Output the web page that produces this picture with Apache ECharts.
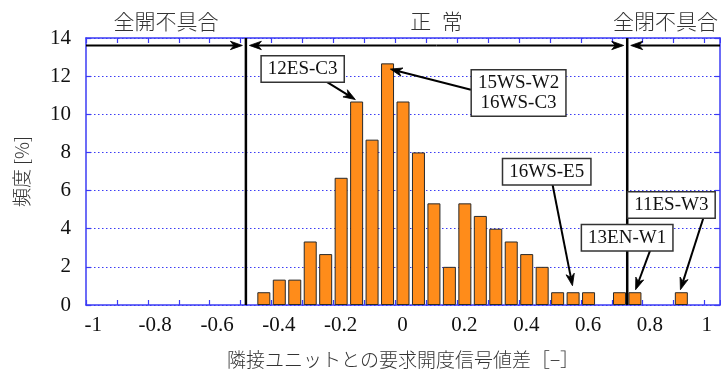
<!DOCTYPE html>
<html><head><meta charset="utf-8">
<script src="https://cdn.jsdelivr.net/npm/echarts@6/dist/echarts.min.js"></script>
<style>html,body{margin:0;padding:0;background:#fff}#c{width:721px;height:374px}</style>
</head><body><div id="c"></div>
<script>
// ---- data ----
const binCenters = [-0.425,-0.375,-0.325,-0.275,-0.225,-0.175,-0.125,-0.075,-0.025,0.025,0.075,0.125,0.175,0.225,0.275,0.325,0.375,0.425,0.475,0.525,0.575,0.625,0.675,0.725,0.775,0.825,0.875,0.925];
const frequencyPct = [0.67,1.33,1.33,3.33,2.67,6.67,10.67,8.67,12.67,10.67,8.00,5.33,2.00,5.33,4.67,4.00,3.33,2.67,2.00,0.67,0.67,0.67,0,0.67,0.67,0,0,0.67];
const thresholds = [-0.483, 0.75];
const regionLabels = ['全開不具合', '正\u2002常', '全閉不具合'];
const xTickLabels = ['-1','-0.8','-0.6','-0.4','-0.2','0','0.2','0.4','0.6','0.8','1'];
const yTickLabels = ['0','2','4','6','8','10','12','14'];
const annotationTexts = ['12ES-C3', '15WS-W2\n16WS-C3', '16WS-E5', '13EN-W1', '11ES-W3'];
const annotationTargets = [[-0.129,10.77],[-0.016,12.37],[0.573,1.01],[0.777,0.80],[0.922,0.80]];
const xAxisName = '隣接ユニットとの要求開度信号値差［−］';
const yAxisName = '頻度 [%]';

// ---- annotation layout (data coordinates) ----
const annotationBoxCenters = [[-0.2994,12.38],[0.3987,11.12],[0.4897,6.99],[0.7498,3.53],[0.8926,5.24]];
const annotationTails = [[-0.223,11.71],[0.2447,11.29],[0.508,6.36],[0.825,2.9],[0.998,4.65]];

const X_MIN = -1, X_MAX = 1.05, Y_MIN = 0, Y_MAX = 14;
const BLUE = '#3b3bf5';
const SERIF = '"Liberation Serif","DejaVu Serif",serif';
const CJK = '"Noto Sans CJK JP","Noto Sans",sans-serif';

const chart = echarts.init(document.getElementById('c'), null, {renderer: 'canvas'});

function fmtX(v) {
  const s = String(Math.round(v * 10) / 10);
  if (!xTickLabels.includes(s)) return '';
  return s === '1' ? '{b|' + s + '}' : '{a|' + s + '}';
}

function arrowParts(from, tip, color) {
  const dx = tip[0] - from[0], dy = tip[1] - from[1];
  const len = Math.sqrt(dx * dx + dy * dy);
  const ux = dx / len, uy = dy / len, nx = -uy, ny = ux;
  const L = 12, W = 4.2, N = 3.5;
  const notch = [tip[0] - ux * (L - N), tip[1] - uy * (L - N)];
  return [
    {type: 'line', shape: {x1: from[0], y1: from[1], x2: notch[0], y2: notch[1]}, style: {stroke: color, lineWidth: 2}},
    {type: 'polygon', shape: {points: [
      tip,
      [tip[0] - ux * L + nx * W, tip[1] - uy * L + ny * W],
      notch,
      [tip[0] - ux * L - nx * W, tip[1] - uy * L - ny * W]
    ]}, style: {fill: color, stroke: color, lineWidth: 0.8}}
  ];
}

function renderDecor(params, api) {
  const P = (x, y) => api.coord([x, y]);
  const children = [];
  thresholds.forEach(t => {
    const a = P(t, Y_MIN), b = P(t, Y_MAX);
    children.push({type: 'line', shape: {x1: a[0], y1: a[1], x2: b[0], y2: b[1]}, style: {stroke: '#000', lineWidth: 2.5}});
  });
  const ay = 13.61, gap = 3.5;
  const l = P(X_MIN, ay), t1 = P(thresholds[0], ay), t2 = P(thresholds[1], ay), r = P(X_MAX, ay);
  children.push(...arrowParts(l, [t1[0] - gap, t1[1]], '#000'));
  const m1 = [t1[0] + gap, t1[1]], m2 = [t2[0] - gap, t2[1]];
  const mid = [(m1[0] + m2[0]) / 2, m1[1]];
  children.push(...arrowParts(mid, m1, '#000'));
  children.push(...arrowParts(mid, m2, '#000'));
  children.push(...arrowParts(r, [t2[0] + gap, t2[1]], '#000'));
  const topY = P(0, Y_MAX)[1] - 16.5;
  const c0 = P((X_MIN + thresholds[0]) / 2, Y_MAX)[0];
  const c1 = P((thresholds[0] + thresholds[1]) / 2, Y_MAX)[0];
  const rEdge = P(X_MAX, Y_MAX)[0] - 2;
  const labelStyle = {font: '300 21px ' + CJK, fill: '#333', verticalAlign: 'middle'};
  children.push({type: 'text', x: c0, y: topY, style: Object.assign({text: regionLabels[0], align: 'center'}, labelStyle)});
  children.push({type: 'text', x: c1, y: topY, style: Object.assign({text: regionLabels[1], align: 'center'}, labelStyle)});
  children.push({type: 'text', x: rEdge, y: topY, style: Object.assign({text: regionLabels[2], align: 'right'}, labelStyle)});
  annotationTexts.forEach((txt, i) => {
    const from = P(annotationTails[i][0], annotationTails[i][1]);
    const tip = P(annotationTargets[i][0], annotationTargets[i][1]);
    children.push(...arrowParts(from, tip, '#000'));
  });
  annotationTexts.forEach((txt, i) => {
    const c = P(annotationBoxCenters[i][0], annotationBoxCenters[i][1]);
    children.push({type: 'text', x: c[0], y: c[1], z2: 10, style: {
      text: txt, font: '19px ' + SERIF, fill: '#111', align: 'center', verticalAlign: 'middle',
      lineHeight: 20, backgroundColor: '#fff', borderColor: '#333', borderWidth: 1.5, padding: [3, 6, 2, 6]
    }});
  });
  return {type: 'group', children: children};
}

const axisLineStyle = {color: BLUE, width: 1.5};

chart.setOption({
  animation: false,
  backgroundColor: '#fff',
  grid: {left: 86, right: 1, top: 38, bottom: 69, containLabel: false, outerBoundsMode: 'none', show: false},
  xAxis: [{
    type: 'value', position: 'bottom', min: X_MIN, max: X_MAX, interval: 0.1,
    axisLine: {show: true, onZero: false, lineStyle: axisLineStyle},
    axisTick: {show: true, inside: true, length: 5, lineStyle: {color: BLUE, width: 1.2}},
    axisLabel: {
      interval: 0, margin: 10, formatter: fmtX, hideOverlap: false,
      rich: {
        a: {fontFamily: SERIF, fontSize: 21, color: '#111', padding: [0, 0, 0, 14.6]},
        b: {fontFamily: SERIF, fontSize: 21, color: '#111', padding: [0, 0, 0, 4.6]}
      }
    },
    splitLine: {show: false},
    name: xAxisName, nameLocation: 'middle', nameGap: 45, nameMoveOverlap: false,
    nameTextStyle: {fontFamily: CJK, fontWeight: 300, fontSize: 19, color: '#333'}
  }, {
    type: 'value', position: 'top', min: X_MIN, max: X_MAX, interval: 0.1,
    axisLine: {show: true, onZero: false, lineStyle: axisLineStyle},
    axisTick: {show: true, inside: true, length: 5, lineStyle: {color: BLUE, width: 1.2}},
    axisLabel: {show: false}, splitLine: {show: false}
  }],
  yAxis: [{
    type: 'value', position: 'left', min: Y_MIN, max: Y_MAX, interval: 2,
    axisLine: {show: true, onZero: false, lineStyle: axisLineStyle},
    axisTick: {show: true, inside: true, length: 5, lineStyle: {color: BLUE, width: 1.2}},
    axisLabel: {
      margin: 15, fontFamily: SERIF, fontSize: 21, color: '#111',
      formatter: v => { const s = String(Math.round(v)); return yTickLabels.includes(s) ? s : ''; }
    },
    splitLine: {show: true, lineStyle: {color: BLUE, width: 1, type: [1.5, 2.5]}},
    name: yAxisName, nameLocation: 'middle', nameGap: 55, nameRotate: 90, nameMoveOverlap: false,
    nameTextStyle: {fontFamily: CJK, fontWeight: 300, fontSize: 19, color: '#333'}
  }, {
    type: 'value', position: 'right', min: Y_MIN, max: Y_MAX, interval: 2,
    axisLine: {show: true, onZero: false, lineStyle: axisLineStyle},
    axisTick: {show: true, inside: true, length: 5, lineStyle: {color: BLUE, width: 1.2}},
    axisLabel: {show: false}, splitLine: {show: false}
  }],
  series: [{
    type: 'bar', xAxisIndex: 0, yAxisIndex: 0, barWidth: 13, z: 3,
    data: binCenters.map((x, i) => [x, frequencyPct[i]]).filter(d => d[1] > 0),
    itemStyle: {color: '#ff8c1a', borderColor: '#2a2a2a', borderWidth: 1}
  }, {
    type: 'custom', xAxisIndex: 0, yAxisIndex: 0, z: 5, silent: true, clip: false,
    data: [[0, 0]], renderItem: renderDecor
  }]
});
</script>
</body></html>
